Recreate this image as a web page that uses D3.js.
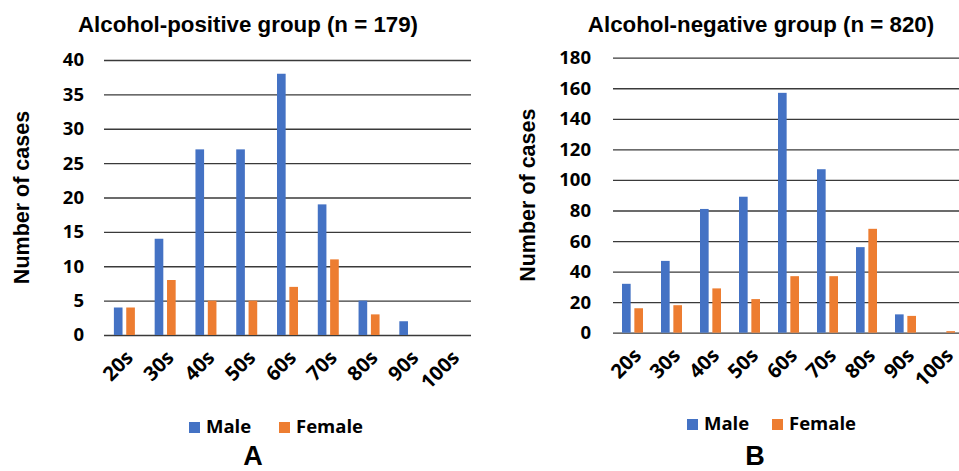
<!DOCTYPE html>
<html>
<head>
<meta charset="utf-8">
<script src="https://cdn.jsdelivr.net/npm/d3@7"></script>
<style>
    body { margin: 0; background: #fff; }
    svg { display: block; }
    .tick-label { font-family: "Open Sans", sans-serif; font-weight: 700; fill: #000; }
    .arial { font-family: "Liberation Sans", Arial, sans-serif; font-weight: 700; fill: #000; }
</style>
</head>
<body>
<svg id="chart" width="959" height="471"></svg>
<script>
const ageGroups = ["20s", "30s", "40s", "50s", "60s", "70s", "80s", "90s", "100s"];

const positiveMale   = [4, 14, 27, 27, 38, 19, 5, 2, 0];
const positiveFemale = [4, 8, 5, 5, 7, 11, 3, 0, 0];
const positiveTicks  = [0, 5, 10, 15, 20, 25, 30, 35, 40];

const negativeMale   = [32, 47, 81, 89, 157, 107, 56, 12, 0];
const negativeFemale = [16, 18, 29, 22, 37, 37, 68, 11, 1];
const negativeTicks  = [0, 20, 40, 60, 80, 100, 120, 140, 160, 180];

const seriesNames = ["Male", "Female"];
const colors = { Male: "#4472C4", Female: "#ED7D31" };

const svg = d3.select("#chart");

function drawPanel(opt) {
    const g = svg.append("g");

    const x = d3.scaleBand()
        .domain(ageGroups)
        .range([opt.left, opt.right]);

    const y = d3.scaleLinear()
        .domain([0, opt.max])
        .range([opt.bottom, opt.top]);

    const sub = d3.scaleBand()
        .domain(seriesNames)
        .range([-10.5, 10.5])
        .paddingInner(0.3);

    // Gridlines
    g.append("g").selectAll("line")
        .data(opt.ticks)
        .join("line")
        .attr("x1", opt.left)
        .attr("x2", Math.min(opt.right, 959))
        .attr("y1", d => y(d) + 0.5)
        .attr("y2", d => y(d) + 0.5)
        .attr("stroke", "#3a3a3a")
        .attr("stroke-width", 1.3);

    // Y tick labels
    g.append("g").selectAll("text")
        .data(opt.ticks)
        .join("text")
        .attr("class", "tick-label")
        .attr("x", opt.left - opt.tickGap)
        .attr("y", d => y(d))
        .attr("dy", "0.35em")
        .attr("text-anchor", "end")
        .style("font-size", "18.5px")
        .text(d => d);

    // Bars
    const rows = ageGroups.map((a, i) => ({ age: a, Male: opt.male[i], Female: opt.female[i] }));
    const groups = g.append("g").selectAll("g")
        .data(rows)
        .join("g")
        .attr("transform", d => `translate(${x(d.age) + x.bandwidth() / 2},0)`);

    groups.selectAll("rect")
        .data(d => seriesNames.map(s => ({ key: s, value: d[s] })).filter(d => d.value > 0))
        .join("rect")
        .attr("x", d => sub(d.key))
        .attr("width", sub.bandwidth())
        .attr("y", d => y(d.value))
        .attr("height", d => y(0) - y(d.value))
        .attr("fill", d => colors[d.key]);

    // X tick labels, rotated
    g.append("g").selectAll("text")
        .data(ageGroups)
        .join("text")
        .attr("class", "tick-label")
        .attr("transform", d => `translate(${x(d) + x.bandwidth() / 2 + 5},${opt.bottom + 19}) rotate(-45)`)
        .attr("text-anchor", "end")
        .attr("dy", "0.35em")
        .style("font-size", "20px")
        .text(d => d);

    // Title
    g.append("text")
        .attr("class", "arial")
        .attr("x", opt.titleX)
        .attr("y", 32)
        .attr("text-anchor", "middle")
        .style("font-size", "22.3px")
        .text(opt.title);

    // Y axis title
    g.append("text")
        .attr("class", "arial")
        .attr("transform", `translate(${opt.yTitleX},${(opt.top + opt.bottom) / 2}) rotate(-90)`)
        .attr("text-anchor", "middle")
        .attr("dy", "0.35em")
        .style("font-size", "21.5px")
        .text("Number of cases");

    // Legend
    const legend = g.append("g")
        .attr("transform", `translate(${opt.legendX},${opt.legendY})`);
    const items = legend.selectAll("g")
        .data(seriesNames)
        .join("g")
        .attr("transform", (d, i) => `translate(${i * opt.legendStep},0)`);
    items.append("rect")
        .attr("x", 0)
        .attr("y", -11)
        .attr("width", 11)
        .attr("height", 11)
        .attr("fill", d => colors[d]);
    items.append("text")
        .attr("class", "tick-label")
        .attr("x", 17)
        .attr("y", 0)
        .style("font-size", "18.5px")
        .text(d => d);

    // Panel letter
    g.append("text")
        .attr("class", "arial")
        .attr("x", opt.letterX)
        .attr("y", opt.letterY)
        .attr("text-anchor", "middle")
        .style("font-size", "27px")
        .text(opt.letter);
}

drawPanel({
    title: "Alcohol-positive group (n = 179)",
    male: positiveMale, female: positiveFemale, ticks: positiveTicks, max: 40,
    left: 104, right: 471, top: 60, bottom: 335, tickGap: 20,
    titleX: 248, yTitleX: 21,
    legendX: 189, legendY: 433, legendStep: 90,
    letter: "A", letterX: 253, letterY: 465
});

drawPanel({
    title: "Alcohol-negative group (n = 820)",
    male: negativeMale, female: negativeFemale, ticks: negativeTicks, max: 180,
    left: 613, right: 964, top: 57.7, bottom: 332.7, tickGap: 22,
    titleX: 761, yTitleX: 527,
    legendX: 687, legendY: 430, legendStep: 85,
    letter: "B", letterX: 755, letterY: 465
});
</script>
</body>
</html>
